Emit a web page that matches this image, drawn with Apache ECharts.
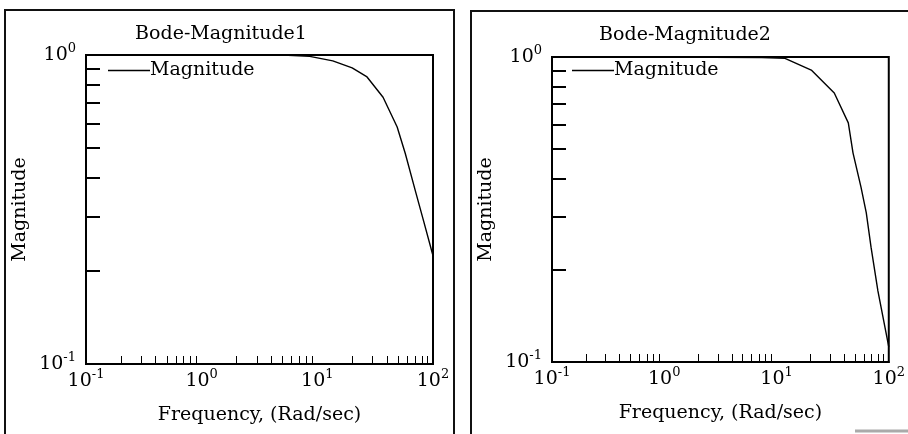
<!DOCTYPE html>
<html>
<head>
<meta charset="utf-8">
<script src="https://cdn.jsdelivr.net/npm/echarts@6/dist/echarts.min.js"></script>
<style>
html,body{margin:0;padding:0;background:#fff;}
#chart{width:908px;height:434px;}
</style>
</head>
<body>
<div id="chart"></div>
<script>
// ---- data ----
var titles = ['Bode-Magnitude1', 'Bode-Magnitude2'];
var seriesName = 'Magnitude';
var xAxisName = 'Frequency, (Rad/sec)';
var yAxisName = 'Magnitude';

var leftFreq = [0.1, 1, 5, 8.6, 13.6, 20, 26.9, 37, 49, 57.6, 70, 83, 100];
var leftMag  = [1, 1, 1, 0.99, 0.957, 0.908, 0.849, 0.73, 0.585, 0.48, 0.366, 0.29, 0.224];

var rightFreq = [0.1, 1, 7.4, 11.9, 20.4, 32.7, 43.6, 48, 56.5, 63, 69.5, 80, 100];
var rightMag  = [1, 1, 0.995, 0.99, 0.906, 0.762, 0.608, 0.485, 0.375, 0.309, 0.238, 0.171, 0.112];

var xLabelValues = [0.1, 1, 10, 100];
var xLabelExps   = ['-1', '0', '1', '2'];
var yLabelValues = [0.1, 1];
var yLabelExps   = ['-1', '0'];
var labelBase = '10';
var xMinorTicks = [0.2,0.3,0.4,0.5,0.6,0.7,0.8,0.9, 2,3,4,5,6,7,8,9, 20,30,40,50,60,70,80,90];
var yMinorTicks = [0.2,0.3,0.4,0.5,0.6,0.7,0.8,0.9];

// ---- build ----
function pairs(xs, ys){ return xs.map(function(x,i){ return [x, ys[i]]; }); }
function lbl(values, exps){ return function(v){
  for (var i=0;i<values.length;i++){ if (Math.abs(v-values[i]) < values[i]*1e-6) return '{b|' + labelBase + '}{s|' + exps[i] + '}'; }
  return '';
};}

var FONT = 'DejaVu Serif';
var FS = 19;
var rich = {
  b:{fontFamily:FONT, fontSize:FS, lineHeight:26, color:'#000'},
  s:{fontFamily:FONT, fontSize:13, lineHeight:10, verticalAlign:'top', color:'#000'}
};
var grids = [
  {left:86, top:55, width:347, height:309},
  {left:552, top:57, width:340, height:305}
];
var titleCenters = [[216, 20], [680, 21]];
var legendPos = [[108, 61], [572, 61]];

var option = {
  animation:false,
  backgroundColor:'#fff',
  textStyle:{fontFamily:FONT, color:'#000'},
  title: titles.map(function(t,i){ return {
    text:t, left:titleCenters[i][0], top:titleCenters[i][1], textAlign:'center',
    textStyle:{fontFamily:FONT, fontSize:FS, fontWeight:'normal', color:'#000'}
  };}),
  legend: [0,1].map(function(i){ return {
    data:[{name: seriesName + (i===0?'':' ')}],
    left:legendPos[i][0], top:legendPos[i][1], padding:0,
    icon:'rect', itemWidth:42, itemHeight:1.5, itemGap:0,
    textStyle:{fontFamily:FONT, fontSize:FS, color:'#000', padding:[0,0,0,-5]},
    formatter:function(){ return seriesName; }
  };}),
  grid: grids.map(function(g){ return {left:g.left, top:g.top, width:g.width, height:g.height,
    show:true, borderColor:'#000', borderWidth:2, backgroundColor:'transparent'}; }),
  xAxis: [0,1].map(function(i){ return {
    type:'log', logBase:10, min:0.1, max:100, gridIndex:i,
    name:xAxisName, nameLocation:'middle', nameGap:42,
    nameTextStyle:{fontFamily:FONT, fontSize:FS, color:'#000'},
    axisLine:{show:true, lineStyle:{color:'#000', width:2}},
    axisTick:{show:true, inside:true, length:8, customValues:xMinorTicks, lineStyle:{color:'#000', width:1}},
    minorTick:{show:false},
    splitLine:{show:false},
    axisLabel:{show:true, margin:4, customValues:xLabelValues, formatter:lbl(xLabelValues, xLabelExps),
      rich:rich, fontFamily:FONT, fontSize:FS, color:'#000', showMinLabel:true, showMaxLabel:true}
  };}),
  yAxis: [0,1].map(function(i){ return {
    type:'log', logBase:10, min:0.1, max:1, gridIndex:i,
    name:yAxisName, nameLocation:'middle', nameGap:56, nameRotate:90,
    nameTextStyle:{fontFamily:FONT, fontSize:FS, color:'#000'},
    axisLine:{show:true, lineStyle:{color:'#000', width:2}},
    axisTick:{show:true, inside:true, length:14, customValues:yMinorTicks, lineStyle:{color:'#000', width:2}},
    splitLine:{show:false},
    axisLabel:{show:true, margin:10, customValues:yLabelValues, formatter:lbl(yLabelValues, yLabelExps),
      rich:rich, fontFamily:FONT, fontSize:FS, color:'#000', showMinLabel:true, showMaxLabel:true}
  };}),
  series: [
    {name:seriesName, type:'line', xAxisIndex:0, yAxisIndex:0, data:pairs(leftFreq,leftMag),
     showSymbol:false, symbol:'none', lineStyle:{color:'#000', width:1.4}, itemStyle:{color:'#000'}},
    {name:seriesName+' ', type:'line', xAxisIndex:1, yAxisIndex:1, data:pairs(rightFreq,rightMag),
     showSymbol:false, symbol:'none', lineStyle:{color:'#000', width:1.4}, itemStyle:{color:'#000'}}
  ],
  graphic: [
    {type:'rect', shape:{x:5, y:10, width:449, height:440}, style:{fill:'none', stroke:'#111', lineWidth:2}, silent:true},
    {type:'rect', shape:{x:471, y:11, width:460, height:440}, style:{fill:'none', stroke:'#111', lineWidth:2}, silent:true},
    {type:'line', shape:{x1:855, y1:431, x2:908, y2:431}, style:{stroke:'#aaa', lineWidth:3}, silent:true}
  ]
};

var chart = echarts.init(document.getElementById('chart'), null, {renderer:'canvas'});
chart.setOption(option);
</script>
</body>
</html>
